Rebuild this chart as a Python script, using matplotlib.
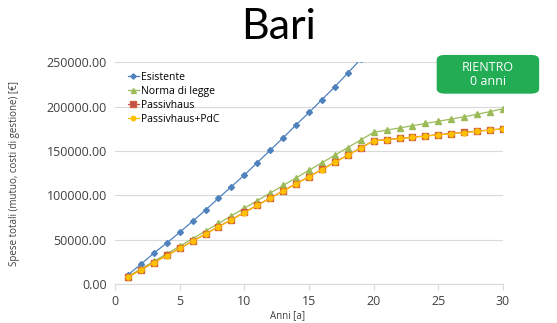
import matplotlib
matplotlib.use("Agg")
import matplotlib.pyplot as plt
from matplotlib.patches import FancyBboxPatch

plt.rcParams['font.family'] = ['Open Sans', 'DejaVu Sans']

anni = list(range(1, 31))
esistente_anni = list(range(1, 20))
esistente = [10500, 22500, 35000, 46500, 58500, 71000, 83500, 97000, 110000, 123000,
             137000, 151000, 165000, 179500, 193500, 208000, 222500, 238000, 253500]
norma = [8700, 17200, 25800, 34300, 42900, 51400, 60000, 68500, 77100, 85600,
         94200, 102700, 111300, 119800, 128400, 136900, 145500, 154000, 162600, 171100,
         173600, 176100, 178600, 181100, 183600, 186100, 188700, 191500, 194500, 197700]
passivhaus = [8200, 16300, 24400, 32400, 40500, 48600, 56700, 64800, 72800, 80900,
              89000, 97100, 105200, 113200, 121300, 129400, 137500, 145600, 153700, 161700,
              163000, 164400, 165700, 167100, 168400, 169800, 171100, 172500, 173800, 175200]
passivhaus_pdc = [8000, 16100, 24200, 32200, 40300, 48400, 56500, 64600, 72600, 80700,
                  88800, 96900, 105000, 113000, 121100, 129200, 137300, 145400, 153500, 161500,
                  162800, 164200, 165500, 166900, 168200, 169600, 170900, 172300, 173600, 175000]
y_ticks = [0, 50000, 100000, 150000, 200000, 250000]
x_ticks = [0, 5, 10, 15, 20, 25, 30]

fig = plt.figure(figsize=(5.57, 3.23), dpi=100)
ax = fig.add_axes([0.2065, 0.12, 0.6965, 0.687])

ax.plot(esistente_anni, esistente, color="#4F81BD", lw=0.9, marker="D", ms=3,
        label="Esistente")
ax.plot(anni, norma, color="#9BBB59", lw=0.9, marker="^", ms=4, label="Norma di legge")
ax.plot(anni, passivhaus, color="#C0504D", lw=0.9, marker="s", ms=4.5,
        mec="#D0603A", label="Passivhaus")
ax.plot(anni, passivhaus_pdc, color="#FFC000", lw=0.9, marker="o", ms=3.5,
        label="Passivhaus+PdC")

ax.set_xlim(0, 30)
ax.set_ylim(0, 250000)
ax.set_xticks(x_ticks)
ax.set_yticks(y_ticks)
ax.set_yticklabels([f"{v:.2f}" for v in y_ticks])
ax.grid(axis="y", color="#D9D9D9", lw=0.8)
ax.set_axisbelow(True)
for side in ["top", "right", "left"]:
    ax.spines[side].set_visible(False)
ax.spines["bottom"].set_color("#D9D9D9")
ax.tick_params(axis="y", length=0, labelsize=9, colors="#404040", pad=6)
ax.tick_params(axis="x", length=4, color="#D9D9D9", labelsize=9, labelcolor="#404040")

ax.set_xlabel("Anni [a]", fontsize=7, color="#404040")
ax.xaxis.set_label_coords(0.446, -0.115)
ax.set_ylabel("Spese totali (mutuo, costi di gestione) [€]", fontsize=7,
              color="#404040")
ax.yaxis.set_label_coords(-0.245, 0.5)

ax.legend(loc="upper left", bbox_to_anchor=(0.01, 1.0), frameon=False,
          fontsize=7.5, handlelength=1.0, handletextpad=0.2, labelspacing=0.3,
          markerscale=0.9)

fig.text(0.5, 0.915, "Bari", ha="center", va="center", fontsize=31,
         family=["Lato", "DejaVu Sans"], color="black")

box = FancyBboxPatch((0.784, 0.71), 0.184, 0.12, transform=fig.transFigure,
                     boxstyle="round,pad=0,rounding_size=0.015",
                     facecolor="#22AD55", edgecolor="none")
fig.patches.append(box)
fig.text(0.876, 0.77, "RIENTRO\n0 anni", ha="center", va="center",
         fontsize=9, color="white", linespacing=1.15)

fig.savefig("out.png", dpi=100)
